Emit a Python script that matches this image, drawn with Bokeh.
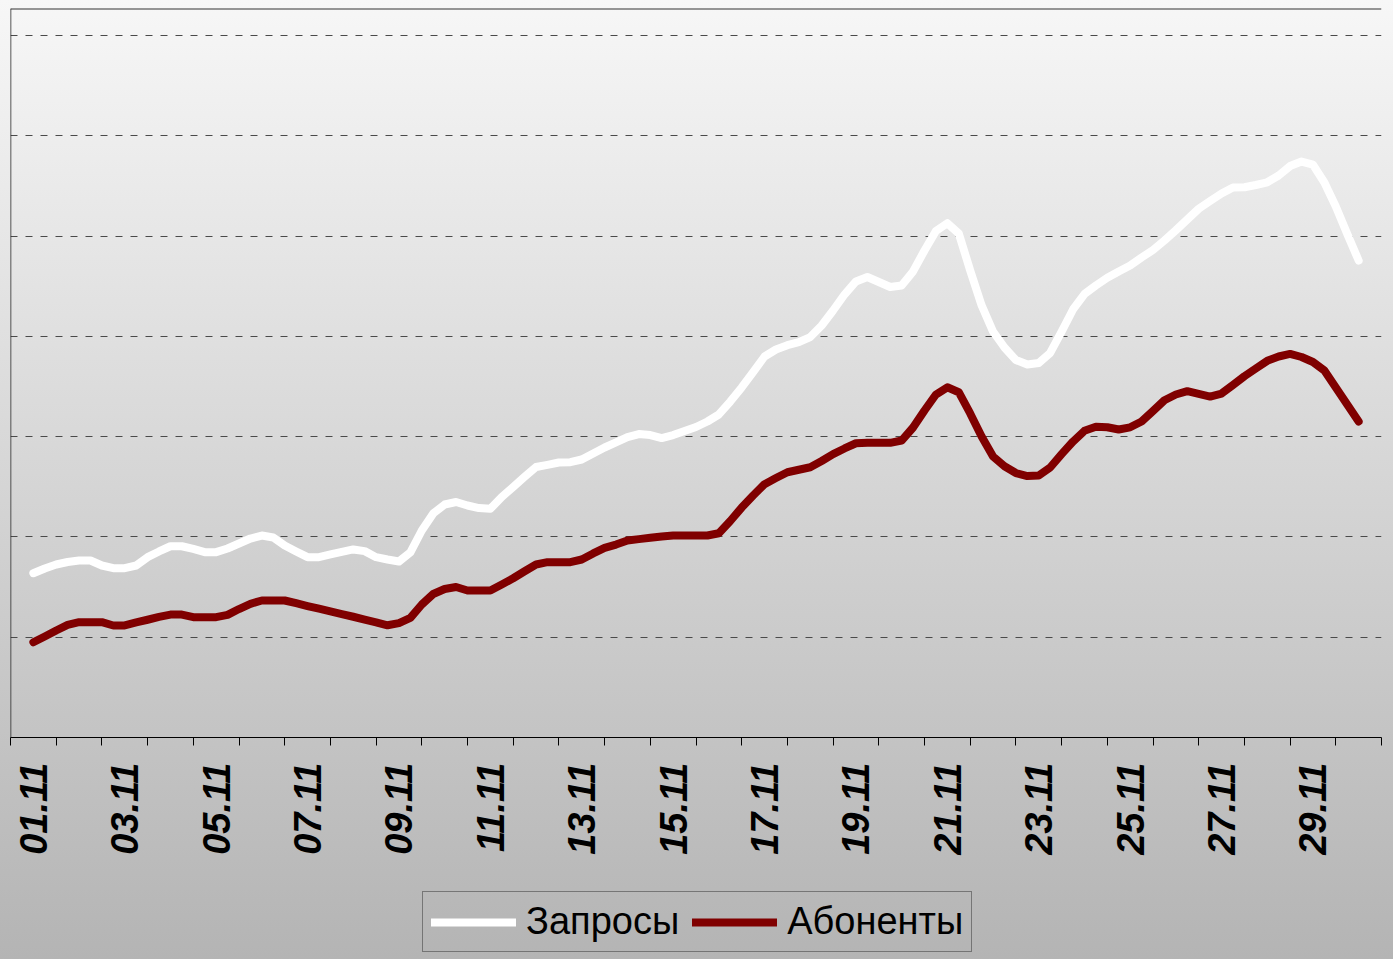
from bokeh.plotting import figure
from bokeh.layouts import column
from bokeh.models import (Range1d, FixedTicker, Span, Legend, LegendItem, ColumnDataSource)
from bokeh.embed import file_html
from bokeh.resources import INLINE
import math

# ---- data (6-hour readings, 01.11 .. 30.11) ----
zaprosy = [1638, 1685, 1725, 1750, 1765, 1765, 1715, 1688, 1688, 1715, 1798, 1855, 1907, 1907, 1880, 1848,
           1848, 1885, 1934, 1984, 2014, 1994, 1914, 1855, 1798, 1798, 1825, 1850, 1875, 1858, 1798, 1775,
           1755, 1845, 2064, 2234, 2323, 2348, 2313, 2288, 2280, 2398, 2498, 2599, 2697, 2719, 2742, 2745,
           2772, 2832, 2892, 2942, 2995, 3026, 3016, 2986, 3016, 3056, 3096, 3151, 3221, 3350, 3490, 3644,
           3799, 3869, 3912, 3942, 3993, 4108, 4258, 4417, 4547, 4592, 4542, 4492, 4507, 4647, 4856, 5050,
           5128, 5025, 4657, 4308, 4048, 3889, 3764, 3719, 3734, 3834, 4048, 4268, 4422, 4507, 4584, 4647,
           4706, 4786, 4861, 4956, 5058, 5165, 5272, 5349, 5424, 5484, 5487, 5509, 5536, 5604, 5698, 5743,
           5713, 5534, 5295, 5022, 4756]
abonenty = [950, 1007, 1067, 1122, 1150, 1150, 1150, 1117, 1117, 1147, 1174, 1202, 1226, 1226, 1200, 1200,
            1200, 1223, 1281, 1333, 1366, 1366, 1366, 1339, 1311, 1284, 1257, 1230, 1204, 1176, 1149, 1119,
            1141, 1192, 1326, 1431, 1481, 1501, 1466, 1466, 1466, 1526, 1588, 1658, 1725, 1748, 1748, 1748,
            1775, 1835, 1890, 1924, 1964, 1978, 1991, 2004, 2014, 2014, 2014, 2014, 2037, 2159, 2293, 2413,
            2526, 2587, 2645, 2670, 2695, 2757, 2826, 2882, 2934, 2938, 2938, 2938, 2961, 3091, 3261, 3420,
            3492, 3443, 3231, 3001, 2802, 2705, 2637, 2607, 2612, 2692, 2825, 2951, 3058, 3098, 3094, 3071,
            3093, 3151, 3256, 3363, 3420, 3453, 3427, 3400, 3430, 3515, 3602, 3679, 3756, 3799, 3825, 3794,
            3744, 3659, 3490, 3320, 3151]
steps_per_day = 4
t = [1 + i / steps_per_day for i in range(len(zaprosy))]

label_days = [1, 3, 5, 7, 9, 11, 13, 15, 17, 19, 21, 23, 25, 27, 29]
tick_labels = ["01.11", "03.11", "05.11", "07.11", "09.11", "11.11", "13.11", "15.11",
               "17.11", "19.11", "21.11", "23.11", "25.11", "27.11", "29.11"]
grid_values = [1000, 2000, 3000, 4000, 5000, 6000, 7000]
y_max = 7269
series_names = ["Запросы", "Абоненты"]
series_fields = ["z", "a"]
series_colors = ["white", "#800000"]

src = ColumnDataSource(dict(t=t, z=zaprosy, a=abonenty))

p = figure(width=1393, height=870, output_backend="svg", toolbar_location=None,
           x_range=Range1d(0.5, 30.5), y_range=Range1d(0, y_max),
           y_axis_location=None,
           min_border_left=10, min_border_right=12, min_border_top=8, min_border_bottom=133)
p.background_fill_color = None
p.border_fill_color = None
p.outline_line_color = None

# grid
p.xgrid.visible = False
p.ygrid.ticker = FixedTicker(ticks=grid_values)
p.ygrid.grid_line_color = "#4a4a4a"
p.ygrid.grid_line_dash = "7 8"
p.ygrid.grid_line_width = 1

# x axis: labels at odd days, ticks at day boundaries
ax = p.xaxis[0]
ax.ticker = FixedTicker(ticks=label_days, minor_ticks=[d + 0.5 for d in range(0, 31)])
ax.major_label_overrides = {d: s for d, s in zip(label_days, tick_labels)}
ax.major_tick_line_color = None
ax.minor_tick_line_color = "black"
ax.minor_tick_out = 8
ax.minor_tick_in = 0
ax.axis_line_color = "black"
ax.axis_line_width = 1
ax.major_label_orientation = math.pi / 2
ax.major_label_text_font = "Liberation Sans"
ax.major_label_text_font_style = "bold italic"
ax.major_label_text_font_size = "38px"
ax.major_label_text_color = "black"
ax.major_label_standoff = 17

# borders (top, left)
p.add_layout(Span(location=y_max, dimension="width", line_color="#333333", line_width=2))
p.add_layout(Span(location=0.5, dimension="height", line_color="#222222", line_width=1.5))

for f, col in zip(series_fields, series_colors):
    p.line("t", f, source=src, line_color=col, line_width=8,
           line_join="round", line_cap="round")

# legend strip below the chart (same series, drawn out of this strip's view)
p2 = figure(width=1393, height=89, output_backend="svg", toolbar_location=None,
            x_range=Range1d(0, 1), y_range=Range1d(0, 1),
            x_axis_location=None, y_axis_location=None,
            min_border_left=0, min_border_right=0, min_border_top=0, min_border_bottom=0)
p2.background_fill_color = None
p2.border_fill_color = None
p2.outline_line_color = None
p2.xgrid.visible = False
p2.ygrid.visible = False
items = []
for name, f, col in zip(series_names, series_fields, series_colors):
    r = p2.line("t", f, source=src, line_color=col, line_width=8, line_cap="round")
    items.append(LegendItem(label=name, renderers=[r]))

legend = Legend(items=items, orientation="horizontal", location=(412, 7))
legend.background_fill_color = None
legend.border_line_color = "#333333"
legend.border_line_width = 1
legend.label_text_font = "Liberation Sans"
legend.label_text_font_size = "38px"
legend.label_text_color = "black"
legend.glyph_width = 85
legend.glyph_height = 30
legend.label_standoff = 10
legend.spacing = 13
legend.padding = 8
legend.margin = 0
p2.add_layout(legend, "center")

layout = column(p, p2, spacing=0)

html = file_html(layout, INLINE)
html = html.replace("<head>", "<head><style>html{min-height:100%;background:linear-gradient(to bottom,#f7f7f7,#b4b4b4) no-repeat fixed;}</style>", 1)
open("out.html", "w").write(html)
